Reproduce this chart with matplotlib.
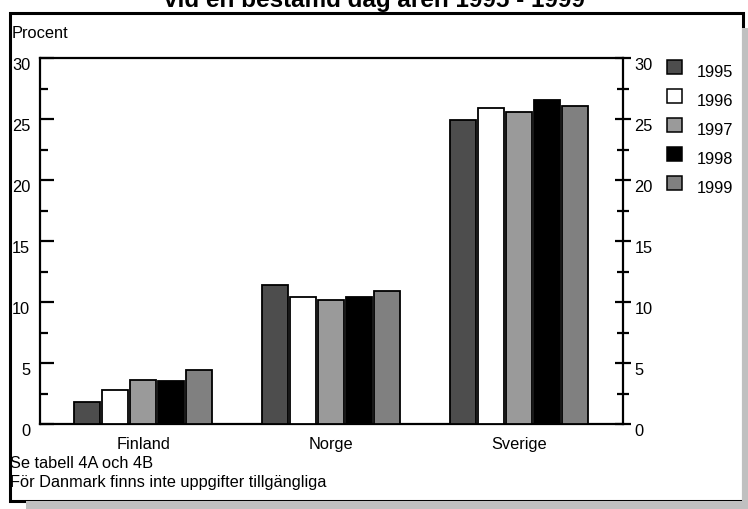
import matplotlib
matplotlib.use("Agg")
import numpy as np
import matplotlib.pyplot as plt
from matplotlib.patches import Rectangle
from matplotlib.ticker import MultipleLocator

plt.rcParams["font.family"] = ["Liberation Sans", "DejaVu Sans"]

# data
countries = ["Finland", "Norge", "Sverige"]
years = ["1995", "1996", "1997", "1998", "1999"]
v1995 = [1.8, 11.4, 24.9]
v1996 = [2.8, 10.4, 25.9]
v1997 = [3.6, 10.2, 25.6]
v1998 = [3.5, 10.4, 26.6]
v1999 = [4.4, 10.9, 26.1]
series = [v1995, v1996, v1997, v1998, v1999]
colors = ["#4d4d4d", "#ffffff", "#9a9a9a", "#000000", "#808080"]

W, H = 748, 509
FS = 11.8


def fx(px):
    return px / W


def fy(py):
    # pixel row from top -> figure fraction
    return 1 - py / H


fig = plt.figure(figsize=(W / 100, H / 100), dpi=100)

# outer frame and grey drop shadow (behind the axes)
fig.patches.append(Rectangle((fx(9.5), fy(501)), fx(743 - 9.5), fy(12.5) - fy(501),
                             transform=fig.transFigure, facecolor="white",
                             edgecolor="black", linewidth=2.2, zorder=-3))
fig.patches.append(Rectangle((fx(742), fy(509)), fx(6), fy(28) - fy(509),
                             transform=fig.transFigure, facecolor="#c0c0c0",
                             edgecolor="none", zorder=-2))
fig.patches.append(Rectangle((fx(26), fy(509)), fx(W - 26), fy(501) - fy(509),
                             transform=fig.transFigure, facecolor="#c0c0c0",
                             edgecolor="none", zorder=-2))

# title, cut off at the top edge as in the source
fig.text(fx(374), fy(7), "vid en bestämd dag åren 1995 - 1999", ha="center",
         va="baseline", fontsize=17.5, fontweight="bold")

ax = fig.add_axes([fx(40), fy(424), fx(622.7 - 40), fy(58.3) - fy(424)])
ax.set_facecolor("none")

x = np.arange(len(countries))
step = 0.149
width = 0.138
for i, (vals, col) in enumerate(zip(series, colors)):
    ax.bar(x + (i - 2) * step, vals, width, color=col, edgecolor="black",
           linewidth=1.3, zorder=3)

ax.set_xlim(-0.55, 2.55)
ax.set_ylim(0, 30)
ax.set_xticks(x)
ax.set_xticklabels(countries, fontsize=FS)
ax.tick_params(axis="x", length=0, pad=9.5)

ax.yaxis.set_major_locator(MultipleLocator(5))
ax.yaxis.set_minor_locator(MultipleLocator(2.5))
ax.tick_params(axis="y", which="major", direction="in", length=10, width=1.6,
               labelsize=FS, pad=7)
ax.tick_params(axis="y", which="minor", direction="in", length=6, width=1.6)
for lbl in ax.get_yticklabels():
    lbl.set_va("top")
for sp in ax.spines.values():
    sp.set_linewidth(1.6)

ax2 = ax.twinx()
ax2.set_ylim(0, 30)
ax2.yaxis.set_major_locator(MultipleLocator(5))
ax2.yaxis.set_minor_locator(MultipleLocator(2.5))
ax2.tick_params(axis="y", which="major", direction="inout", length=11, width=1.6,
                labelsize=FS, pad=3)
ax2.tick_params(axis="y", which="minor", direction="inout", length=8, width=1.6)
for lbl in ax2.get_yticklabels():
    lbl.set_va("top")
for sp in ax2.spines.values():
    sp.set_visible(False)

# legend drawn by hand to match the spacing of the original
for i, (yr, col) in enumerate(zip(years, colors)):
    top = 60 + i * 29
    fig.patches.append(Rectangle((fx(667), fy(top + 13.5)), fx(14.5), fy(top) - fy(top + 13.5),
                                 transform=fig.transFigure, facecolor=col,
                                 edgecolor="black", linewidth=1.1, zorder=5))
    fig.text(fx(697), fy(top + 12.5), yr, ha="left", va="center", fontsize=FS)

fig.text(fx(12), fy(34), "Procent", ha="left", va="center", fontsize=FS)
fig.text(fx(10), fy(463), "Se tabell 4A och 4B", ha="left", va="center", fontsize=FS)
fig.text(fx(10), fy(483), "För Danmark finns inte uppgifter tillgängliga",
         ha="left", va="center", fontsize=FS)

fig.savefig("out.png", dpi=100)
